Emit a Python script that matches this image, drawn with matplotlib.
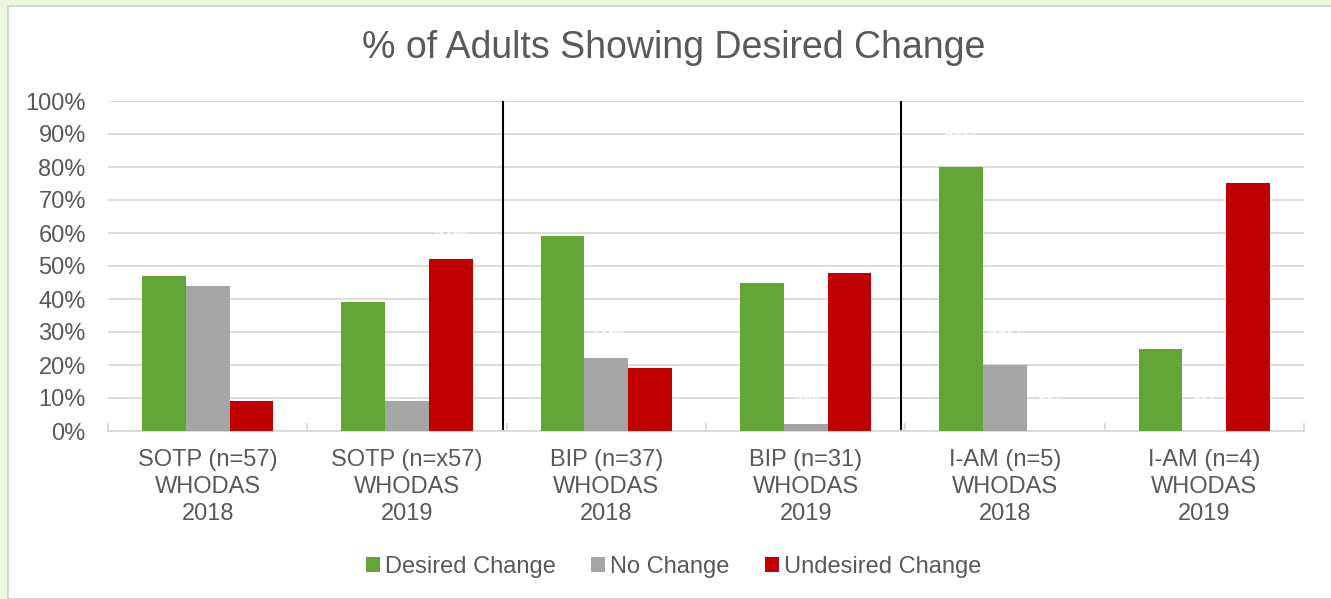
import matplotlib as mpl
mpl.use('Agg')
import numpy as np
import matplotlib.pyplot as plt
from matplotlib.patches import Rectangle

categories = ["SOTP (n=57)\nWHODAS\n2018", "SOTP (n=x57)\nWHODAS\n2019",
              "BIP (n=37)\nWHODAS\n2018", "BIP (n=31)\nWHODAS\n2019",
              "I-AM (n=5)\nWHODAS\n2018", "I-AM (n=4)\nWHODAS\n2019"]
desired = [47, 39, 59, 45, 80, 25]
no_change = [44, 9, 22, 2, 20, 0]
undesired = [9, 52, 19, 48, 0, 75]
series_names = ["Desired Change", "No Change", "Undesired Change"]
colors = ["#63A537", "#A5A5A5", "#C00000"]
TXT = "#595959"
GRID = "#D9D9D9"

plt.rcParams['font.family'] = ['Liberation Sans', 'DejaVu Sans']

fig = plt.figure(figsize=(13.31, 5.99), dpi=100)
fig.patch.set_facecolor("#EBF5DF")
fig.patches.append(Rectangle((8/1331, 0), 1, 1 - 6/599, transform=fig.transFigure,
                             facecolor="white", edgecolor="#D0D0D0", linewidth=1.2, zorder=0))

ax = fig.add_axes([108/1331, 1 - 431/599, (1304-108)/1331, (431-101)/599])
ax.set_facecolor("none")
ax.set_zorder(2)

x = np.arange(len(categories))
w = 0.22
data = [desired, no_change, undesired]
for i in range(3):
    bars = ax.bar(x + (i - 1) * w, data[i], w, color=colors[i], label=series_names[i], zorder=3)
    # white data labels (as in original, barely visible)
    for b, v in zip(bars, data[i]):
        ax.text(b.get_x() + b.get_width() / 2, v + 5, "%d%%" % v, color="white",
                ha="center", va="bottom", fontsize=13, zorder=4)

ax.set_xlim(-0.5, len(categories) - 0.5)
ax.set_ylim(0, 100)
ax.set_yticks(np.arange(0, 101, 10))
ax.set_yticklabels(["%d%%" % v for v in range(0, 101, 10)])
ax.yaxis.grid(True, color=GRID, linewidth=1.3, zorder=0)
ax.set_axisbelow(True)

ax.set_xticks(x)
ax.set_xticklabels(categories, linespacing=1.3)
ax.set_xticks(np.arange(-0.5, len(categories), 1), minor=True)
ax.tick_params(axis='x', which='major', length=0, pad=13, labelsize=17, labelcolor=TXT)
ax.tick_params(axis='x', which='minor', length=6, direction='in', color=GRID, width=1.3)
ax.tick_params(axis='y', length=0, pad=16, labelsize=17, labelcolor=TXT)

for s in ['top', 'right', 'left']:
    ax.spines[s].set_visible(False)
ax.spines['bottom'].set_color(GRID)
ax.spines['bottom'].set_linewidth(1.3)

# group separators
for xs in [1.48, 3.48]:
    ax.axvline(xs, ymin=0.005, ymax=1.0, color="black", linewidth=1.5, zorder=5)

fig.text(0.506, 1 - 48/599, "% of Adults Showing Desired Change", ha="center", va="center",
         fontsize=27, color=TXT)

leg = fig.legend(loc="center", bbox_to_anchor=(0.506, 1 - 567/599), ncol=3, frameon=False,
                 fontsize=17, handlelength=0.6, handleheight=0.6, handletextpad=0.2,
                 columnspacing=1.5)
for t in leg.get_texts():
    t.set_color(TXT)

fig.savefig("out.png", dpi=100, facecolor=fig.get_facecolor())
